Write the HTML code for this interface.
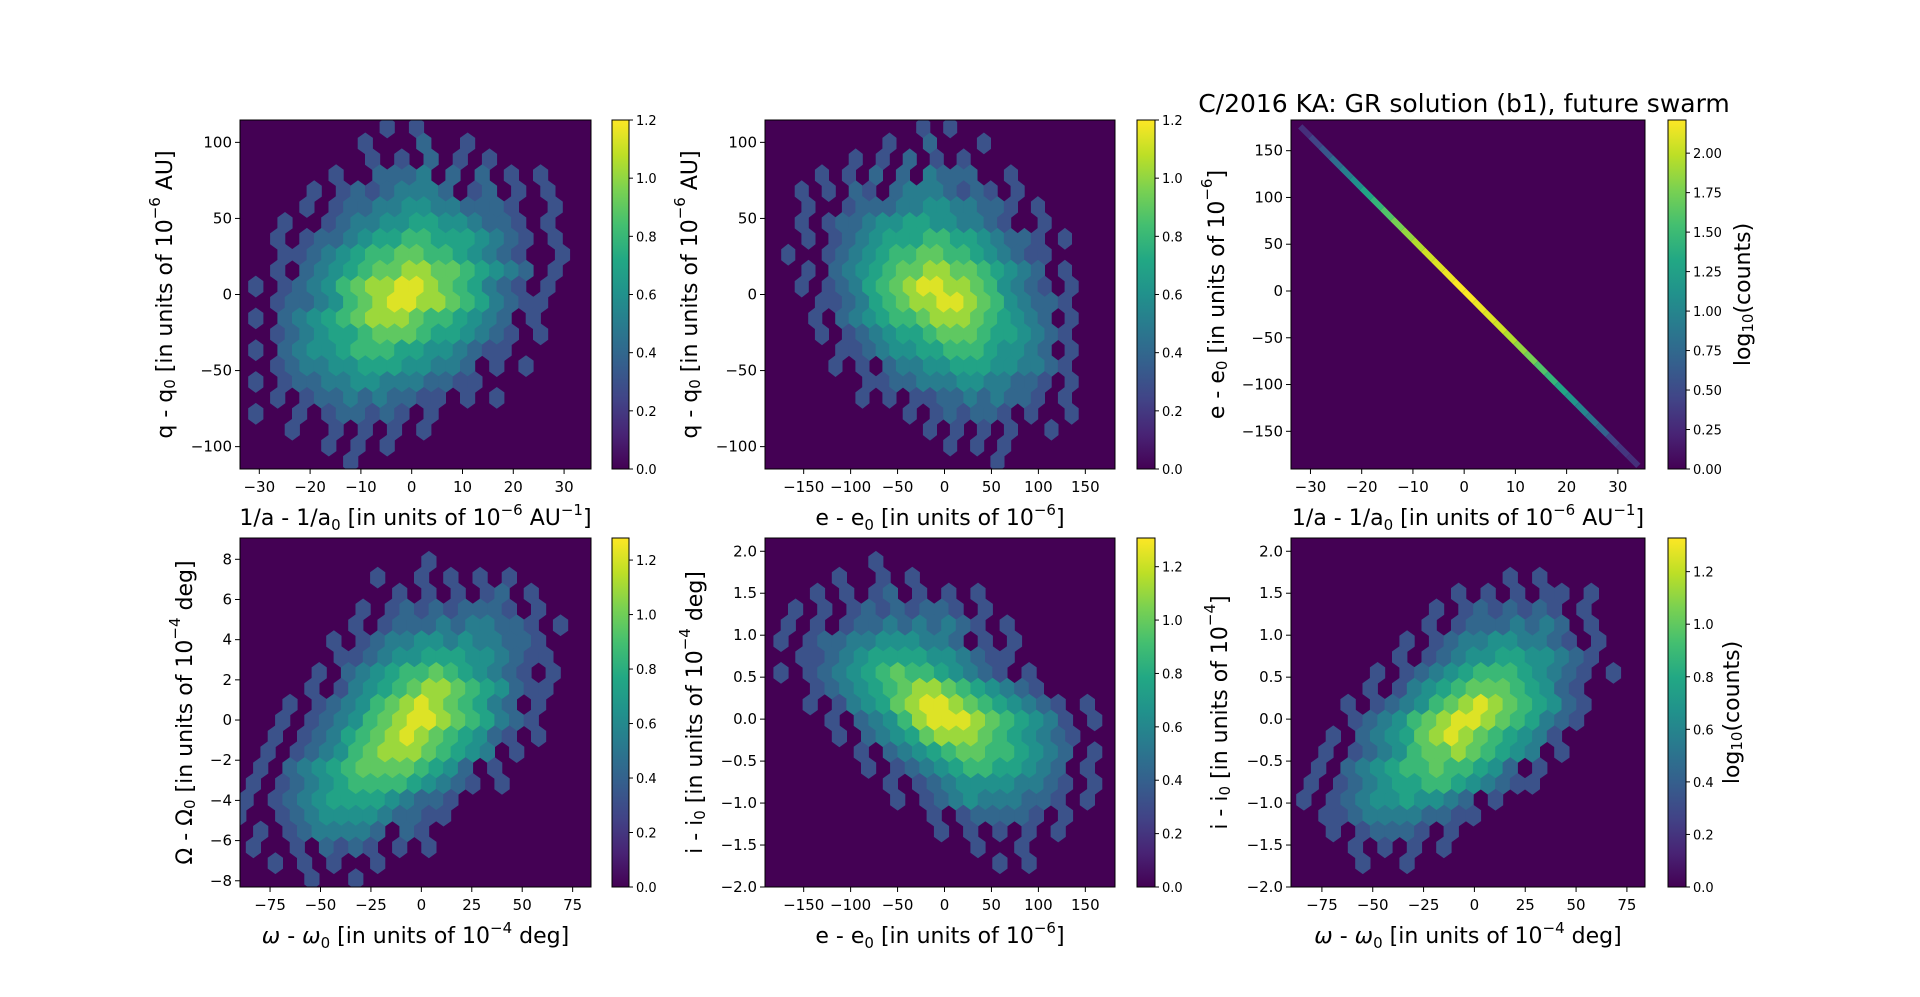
<!DOCTYPE html>
<html><head><meta charset="utf-8"><style>
html,body{margin:0;padding:0;background:#fff;}
svg{display:block;font-family:"DejaVu Sans","Liberation Sans",sans-serif;}
</style></head><body>
<svg id="fig" width="1920" height="997" viewBox="0 0 1920 997" xmlns="http://www.w3.org/2000/svg">
<defs>
<linearGradient id="vir" x1="0" y1="1" x2="0" y2="0">
<stop offset="0" stop-color="#440154"/><stop offset="0.1" stop-color="#482475"/><stop offset="0.2" stop-color="#414487"/><stop offset="0.3" stop-color="#355f8d"/><stop offset="0.4" stop-color="#2a788e"/><stop offset="0.5" stop-color="#21918c"/><stop offset="0.6" stop-color="#22a884"/><stop offset="0.7" stop-color="#44bf70"/><stop offset="0.8" stop-color="#7ad151"/><stop offset="0.9" stop-color="#bddf26"/><stop offset="1" stop-color="#fde725"/>
</linearGradient>
</defs>
<text x="1464" y="112" font-size="25" text-anchor="middle">C/2016 KA: GR solution (b1), future swarm</text>
</svg>
<script>
// ---------- data ----------
const levelValues = [0, 0.25, 0.33, 0.42, 0.5, 0.58, 0.67, 0.75, 0.85, 0.95]; // fraction of vmax

const gridP1 = [
"..........1.1",
"........1...2..1",
".........1.1.2.1.1",
"......1..2223.2.2.1.1",
".....1.12123332.12.1.1",
"....1.1223344332221..1",
"...1..12334455443221.1",
"..1.1223455665554321.1",
"...11234566776654321..1",
"..1.2345677887765432.1",
".1.12346788998765321.1",
"..1223467899887653211",
".1.2345678887665432.1",
"..12345567776554321.1",
".1.2344566655443211",
"..12334455544332.1.1",
".1.12233443332211",
"..1.1223232211.1.1",
".1..1.122121.1",
"...1..1.1.1.1",
"......1.1.1",
".......1"];
const gridP2 = gridP1.map(s => s.padEnd(24, '.').split('').reverse().join(''));

const gridP4 = [
"",
"..............1",
"...........1..1.1.1.1",
"............1.1.1.12.1",
"..........1.121212221.1",
".........1.12223233221.1",
"........1.1233443433221",
"........112344555443211",
".......1.2345667654321.1",
"......1.134567887654211",
".....1.12346789876532.1",
"....1.1234678998765321",
"....1.123567898765421.1",
"...1.12346788876543.1",
"...1.2345677776542.1",
"..1.12345666654321.1",
"..1.1234555543221",
".1..123444432211",
"...1.1233332.21",
"..1..1.2121.1.1",
"....1.1.1..1",
"......1..1"];

const gridP5 = [
"",
"........1",
"......1..1.1",
"....1.1.12.1.1.1",
"...1.1.12121221.1",
"..1.1.1223232321.1",
"..1.12233444332.1.1",
"...112345555443211",
"..1.12345676654321.1",
"....1234567887654321",
"....1.1345789987654321.1",
".....1.234689998765431.1",
"......1.234578887654321",
".......1.2345677665432.1",
"........1.123456655432.1",
".........1.12344443321.1",
"..........1.1234333221.1",
"............1.122221.1",
".............1.1.1.1.1",
"...............1..1",
".................1.1",
""];

const gridP6 = [
"",
"",
"................1.1",
"............1.1.1.11.1",
"...........1.1212121.1",
"..........1.12223232.1",
".........1.1233443321.1",
"........1.123445544321",
".......1.1234566654321.1",
"......1.1345677765421",
".....1.123467898765421",
".....1234678998765321",
"....1.23457898765431",
"...1.1234677876543.1",
"...1.234566766542.1",
"..1.12345566543211",
"..1.1234454432.1",
"...11233332211",
"....1.12221.1",
".....1.1.1.1",
"......1..1",
""];

// P3: narrow diagonal line (1/a vs e)
const lineX = [-31,-29,-27,-25,-23,-21,-19,-17,-15,-13,-11,-9,-7,-5,-3,-1,1,3,5,7,9,11,13,15,17,19,21,23,25,27,29,31,33];
const lineY = [170.5,159.5,148.5,137.5,126.5,115.5,104.5,93.5,82.5,71.5,60.5,49.5,38.5,27.5,16.5,5.5,-5.5,-16.5,-27.5,-38.5,-49.5,-60.5,-71.5,-82.5,-93.5,-104.5,-115.5,-126.5,-137.5,-148.5,-159.5,-170.5,-181.5];
const lineVals = [0.3,0.45,0.6,0.8,0.95,1.1,1.3,1.45,1.6,1.75,1.85,1.95,2.05,2.1,2.15,2.2,2.2,2.15,2.1,2.05,1.95,1.85,1.75,1.6,1.45,1.3,1.15,1.0,0.85,0.7,0.45,0.35,0.3];

const ticksQ = [-100,-50,0,50,100];
const ticksInvA = [-30,-20,-10,0,10,20,30];
const ticksE = [-150,-100,-50,0,50,100,150];
const ticksEline = [-150,-100,-50,0,50,100,150];
const ticksOmega = [-75,-50,-25,0,25,50,75];
const ticksNode = [-8,-6,-4,-2,0,2,4,6,8];
const ticksInc = [-2.0,-1.5,-1.0,-0.5,0.0,0.5,1.0,1.5,2.0];
const cbTicks12 = [0,0.2,0.4,0.6,0.8,1.0,1.2];
const cbTicks22 = [0,0.25,0.5,0.75,1.0,1.25,1.5,1.75,2.0];

// ---------- helpers ----------
const NS = "http://www.w3.org/2000/svg";
const svg = document.getElementById('fig');
function mk(tag, attrs, parent){const e=document.createElementNS(NS,tag);for(const k in attrs)e.setAttribute(k,attrs[k]);(parent||svg).appendChild(e);return e;}
const vstops=[[0,[68,1,84]],[0.1,[72,36,117]],[0.2,[65,68,135]],[0.3,[53,95,141]],[0.4,[42,120,142]],[0.5,[33,145,140]],[0.6,[34,168,132]],[0.7,[68,191,112]],[0.8,[122,209,81]],[0.9,[189,223,38]],[1,[253,231,37]]];
function viridis(t){t=Math.max(0,Math.min(1,t));for(let i=1;i<vstops.length;i++){if(t<=vstops[i][0]){const a=vstops[i-1],b=vstops[i];const f=(t-a[0])/(b[0]-a[0]);const c=a[1].map((v,j)=>Math.round(v+(b[1][j]-v)*f));return `rgb(${c[0]},${c[1]},${c[2]})`;}}return 'rgb(253,231,37)';}
function fmt(v){return (v<0?'\u2212':'')+Math.abs(v);}

function label(parent,x,y,parts,opts){
  const t=mk('text',Object.assign({x:x,y:y,'font-size':22,'text-anchor':'middle'},opts.attrs||{}),parent);
  parts.forEach(p=>{
    const s=document.createElementNS(NS,'tspan');
    if(p[1]==='sub'){s.setAttribute('font-size','15');s.setAttribute('dy','5');}
    else if(p[1]==='sup'){s.setAttribute('font-size','15');s.setAttribute('dy','-10');}
    else if(p[1]==='norm-after-sub'){s.setAttribute('dy','-5');}
    else if(p[1]==='norm-after-sup'){s.setAttribute('dy','10');}
    if(p[2])s.setAttribute('font-style','italic');
    s.textContent=p[0];t.appendChild(s);
  });
  return t;
}

function makePanel(cfg){
  const g=mk('g',{});
  
  
  const L=cfg.box[0],R=cfg.box[1],T=cfg.box[2],B=cfg.box[3];
  const sx=v=>L+(v-cfg.xr[0])/(cfg.xr[1]-cfg.xr[0])*(R-L);
  const sy=v=>B-(v-cfg.yr[0])/(cfg.yr[1]-cfg.yr[0])*(B-T);
  const cid='clip-'+cfg.name;
  const cp=mk('clipPath',{id:cid},g);mk('rect',{x:L,y:T,width:R-L,height:B-T},cp);
  const bg=mk('rect',{x:L,y:T,width:R-L,height:B-T,fill:'#440154'},g);
  
  
  const hg=mk('g',{'clip-path':`url(#${cid})`},g);
  
  
  function hex(cx,cy,w,h,color){
    const pts=[[cx,cy-h/2],[cx+w/2,cy-h/4],[cx+w/2,cy+h/4],[cx,cy+h/2],[cx-w/2,cy+h/4],[cx-w/2,cy-h/4]].map(p=>p[0].toFixed(1)+','+p[1].toFixed(1)).join(' ');
    const p=mk('polygon',{points:pts,fill:color},hg);
    
    
  }
  if(cfg.grid){
    const nc=24,nr=cfg.grid.length;
    const gx=cfg.gx,gy=cfg.gy;
    const cw=(gx[1]-gx[0])/nc, rh=(gy[1]-gy[0])/nr;
    cfg.grid.forEach((row,r)=>{
      for(let c=0;c<row.length;c++){
        const ch=row[c]; if(ch==='.')continue;
        const lv=parseInt(ch,10); if(!lv)continue;
        const val=levelValues[lv]*cfg.vmax;
        const xd=gx[0]+(c+0.5+(r%2?0.5:0))*cw;
        const yd=gy[1]-(r+0.5)*rh;
        const w=Math.abs(sx(gx[0]+cw)-sx(gx[0]))+0.6;
        const h=Math.abs(sy(0)-sy(rh))*4/3+0.6;
        hex(sx(xd),sy(yd),w,h,viridis(val/cfg.vmax));
      }
    });
  }
  if(cfg.line){
    const X=cfg.line.x,Y=cfg.line.y;
    X.forEach((xv,i)=>{
      const px=sx(xv),py=sy(Y[i]);
      const a=i>0?[(sx(X[i-1])+px)/2,(sy(Y[i-1])+py)/2]:[px-(sx(X[1])-sx(X[0]))/2,py-(sy(Y[1])-sy(Y[0]))/2];
      const b=i<X.length-1?[(sx(X[i+1])+px)/2,(sy(Y[i+1])+py)/2]:[px+(sx(X[1])-sx(X[0]))/2,py+(sy(Y[1])-sy(Y[0]))/2];
      const s=mk('line',{x1:a[0],y1:a[1],x2:b[0],y2:b[1],stroke:viridis(cfg.line.v[i]/cfg.vmax),'stroke-width':6},hg);
      
      
    });
  }
  mk('rect',{x:L,y:T,width:R-L,height:B-T,fill:'none',stroke:'#000','stroke-width':1},g);
  cfg.xt.forEach(v=>{const x=sx(v);mk('line',{x1:x,x2:x,y1:B,y2:B+5,stroke:'#000'},g);
    const t=mk('text',{x:x,y:B+23,'font-size':15,'text-anchor':'middle'},g);t.textContent=cfg.xfmt?cfg.xfmt(v):fmt(v);
    });
  cfg.yt.forEach(v=>{const y=sy(v);mk('line',{x1:L-5,x2:L,y1:y,y2:y,stroke:'#000'},g);
    const t=mk('text',{x:L-8,y:y+5,'font-size':15,'text-anchor':'end'},g);t.textContent=cfg.yfmt?cfg.yfmt(v):fmt(v);
    });
  const xl=label(g,(L+R)/2,B+56,cfg.xlabel,{});
  
  const yc=(T+B)/2;
  const yl=label(g,cfg.ylx,yc,cfg.ylabel,{attrs:{transform:`rotate(-90 ${cfg.ylx} ${yc})`,'dominant-baseline':'central'}});
  
  const cb=cfg.cb, cbg=mk('g',{},g);
  
  mk('rect',{x:cb[0],y:T,width:cb[1]-cb[0],height:B-T,fill:'url(#vir)',stroke:'#000','stroke-width':1},cbg);
  const cy=v=>B-v/cfg.vmax*(B-T);
  cfg.cbt.forEach(v=>{const y=cy(v);mk('line',{x1:cb[1],x2:cb[1]+4,y1:y,y2:y,stroke:'#000'},cbg);
    const t=mk('text',{x:cb[1]+7,y:y+5,'font-size':13},cbg);t.textContent=cfg.cbfmt(v);
    });
  if(cfg.cblx){
    const cl=label(cbg,cfg.cblx,yc,[['log','n'],['10','sub'],['(counts)','norm-after-sub']],{attrs:{transform:`rotate(-90 ${cfg.cblx} ${yc})`,'dominant-baseline':'central'}});
    
  }
}
const f1=v=>v.toFixed(1), f2=v=>v.toFixed(2);
const fi1=v=>(v<0?'\u2212':'')+Math.abs(v).toFixed(1);
const invaLbl=[['1/a - 1/a','n'],['0','sub'],[' [in units of 10','norm-after-sub'],['\u22126','sup'],[' AU','norm-after-sup'],['\u22121','sup'],[']','norm-after-sup']];
const eLbl=[['e - e','n'],['0','sub'],[' [in units of 10','norm-after-sub'],['\u22126','sup'],[']','norm-after-sup']];
const qLbl=[['q - q','n'],['0','sub'],[' [in units of 10','norm-after-sub'],['\u22126','sup'],[' AU]','norm-after-sup']];
const omLbl=[['\u03C9','n',true],[' - ','n'],['\u03C9','n',true],['0','sub'],[' [in units of 10','norm-after-sub'],['\u22124','sup'],[' deg]','norm-after-sup']];
const nodeLbl=[['\u03A9 - \u03A9','n'],['0','sub'],[' [in units of 10','norm-after-sub'],['\u22124','sup'],[' deg]','norm-after-sup']];
const incLbl=[['i - i','n'],['0','sub'],[' [in units of 10','norm-after-sub'],['\u22124','sup'],[' deg]','norm-after-sup']];
const incLbl2=[['i - i','n'],['0','sub'],[' [in units of 10','norm-after-sub'],['\u22124','sup'],[']','norm-after-sup']];

makePanel({name:'panel-q-vs-inva',box:[240,591,120,469],xr:[-33.8,35.3],yr:[-114.7,114.7],grid:gridP1,gx:[-35,34],gy:[-115,115],vmax:1.2,xt:ticksInvA,yt:ticksQ,xlabel:invaLbl,ylabel:qLbl,ylx:165,cb:[612,629],cbt:cbTicks12,cbfmt:f1});
makePanel({name:'panel-q-vs-e',box:[765,1115,120,469],xr:[-191.2,181.6],yr:[-114.7,114.7],grid:gridP2,gx:[-188,157],gy:[-115,115],vmax:1.2,xt:ticksE,yt:ticksQ,xlabel:eLbl,ylabel:qLbl,ylx:690,cb:[1137,1155],cbt:cbTicks12,cbfmt:f1});
makePanel({name:'panel-e-vs-inva',box:[1291,1645,120,469],xr:[-33.8,35.3],yr:[-190.3,182.8],line:{x:lineX,y:lineY,v:lineVals},vmax:2.21,xt:ticksInvA,yt:ticksEline,xlabel:invaLbl,ylabel:eLbl,ylx:1217,cb:[1668,1686],cbt:cbTicks22,cbfmt:f2,cblx:1743});
makePanel({name:'panel-node-vs-omega',box:[240,591,538,887],xr:[-89.9,84.1],yr:[-8.31,9.06],grid:gridP4,gx:[-105,69],gy:[-8.31,9.06],vmax:1.281,xt:ticksOmega,yt:ticksNode,xlabel:omLbl,ylabel:nodeLbl,ylx:185,cb:[612,629],cbt:cbTicks12,cbfmt:f1});
makePanel({name:'panel-inc-vs-e',box:[765,1115,538,887],xr:[-191.2,181.6],yr:[-2.0,2.158],grid:gridP5,gx:[-213,160],gy:[-2.0,2.158],vmax:1.3075,xt:ticksE,yt:ticksInc,yfmt:fi1,xlabel:eLbl,ylabel:incLbl,ylx:695,cb:[1137,1155],cbt:cbTicks12,cbfmt:f1});
makePanel({name:'panel-inc-vs-omega',box:[1291,1645,538,887],xr:[-90.2,83.9],yr:[-2.0,2.158],grid:gridP6,gx:[-102,72],gy:[-2.0,2.158],vmax:1.328,xt:ticksOmega,yt:ticksInc,yfmt:fi1,xlabel:omLbl,ylabel:incLbl2,ylx:1220,cb:[1668,1686],cbt:cbTicks12,cbfmt:f1,cblx:1732});
</script>
</body></html>
